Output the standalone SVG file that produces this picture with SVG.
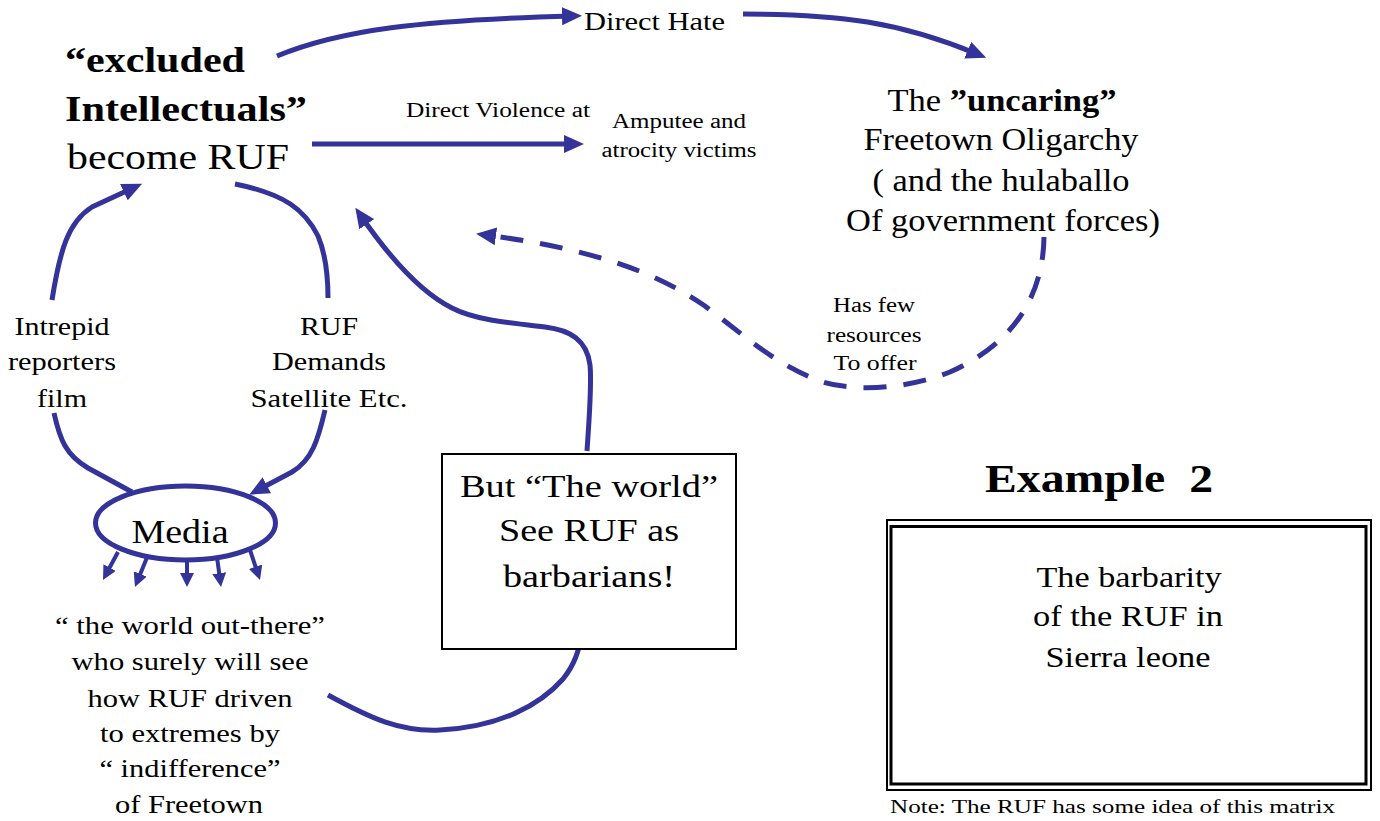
<svg xmlns="http://www.w3.org/2000/svg" width="1380" height="821" viewBox="0 0 1380 821">
<style>
text{font-family:'Liberation Serif',Tinos,'Times New Roman',Times,serif;fill:#000}
.b{font-weight:bold}
.m{text-anchor:middle}
.c{fill:none;stroke:#333399;stroke-width:5}
.a{marker-end:url(#ah)}
.s{fill:none;stroke:#333399;stroke-width:4;marker-end:url(#ahs)}
.d{stroke-dasharray:23 17}
.box{fill:#fff;stroke:#000}
</style>
<defs>
<marker id="ah" markerUnits="userSpaceOnUse" viewBox="0 0 20 18" markerWidth="20" markerHeight="18" refX="10" refY="9" orient="auto"><path d="M0,0 L20,9 L0,18 z" fill="#333399"/></marker>
<marker id="ahs" markerUnits="userSpaceOnUse" viewBox="0 0 14 14" markerWidth="14" markerHeight="14" refX="7" refY="7" orient="auto"><path d="M0,0 L14,7 L0,14 z" fill="#333399"/></marker>
</defs>
<rect width="1380" height="821" fill="#fff"/>

<g id="connectors">
<path class="c a" d="M277,56 C340,30 420,20 572,16"/>
<path class="c a" d="M743,14 C840,14 900,22 977,54"/>
<path class="c a" d="M312,144 L574,144"/>
<path class="c a" d="M52,300 C60,250 68,222 92,207 L133,188"/>
<path class="c" d="M235,184 C285,194 305,210 318,236 C326,255 328,275 328,298"/>
<path class="c" d="M54,413 C60,440 66,455 88,468 L132,492"/>
<path class="c a" d="M325,410 C318,440 312,460 292,472 L258,490"/>
<path class="c a" d="M587,451 C589,420 592,385 590,365 C587,340 570,330 545,327 C510,323 475,320 452,308 C420,292 390,258 361,216"/>
<path class="c a" d="M328,695 C370,718 400,732 440,730 C500,727 540,705 563,679 C575,664 580,650 581,633"/>
<path class="c d a" d="M1044,237 C1043,300 1010,345 950,372 C900,392 840,392 810,377 C770,360 740,332 705,306 C660,275 600,250 486,235"/>
<path class="s" d="M118,552 L106.3,573.8"/>
<path class="s" d="M148,555 L137.6,580.5"/>
<path class="s" d="M187,558 L187,580"/>
<path class="s" d="M217,557 L220.1,580.1"/>
<path class="s" d="M250,550 L257.8,573.4"/>
</g>

<g id="node-intellectuals">
<text class="b" x="65" y="72" font-size="36" textLength="180" lengthAdjust="spacingAndGlyphs">“excluded</text>
<text class="b" x="65" y="121" font-size="36" textLength="242" lengthAdjust="spacingAndGlyphs">Intellectuals”</text>
<text x="67" y="169" font-size="35" textLength="222" lengthAdjust="spacingAndGlyphs">become RUF</text>
</g>

<g id="node-direct-hate">
<text x="584" y="30" font-size="25" textLength="141" lengthAdjust="spacingAndGlyphs">Direct Hate</text>
</g>

<g id="label-direct-violence">
<text x="406" y="117" font-size="20" textLength="184" lengthAdjust="spacingAndGlyphs">Direct Violence at</text>
</g>

<g id="node-victims">
<text class="m" x="679" y="128" font-size="20" textLength="134" lengthAdjust="spacingAndGlyphs">Amputee and</text>
<text class="m" x="679" y="157" font-size="20" textLength="155" lengthAdjust="spacingAndGlyphs">atrocity victims</text>
</g>

<g id="node-oligarchy">
<text class="m" x="1002" y="111" font-size="32" textLength="229" lengthAdjust="spacingAndGlyphs">The <tspan class="b">”uncaring”</tspan></text>
<text class="m" x="1001" y="150" font-size="32" textLength="275" lengthAdjust="spacingAndGlyphs">Freetown Oligarchy</text>
<text class="m" x="1001" y="191" font-size="32" textLength="257" lengthAdjust="spacingAndGlyphs">( and the hulaballo</text>
<text class="m" x="1003" y="231" font-size="32" textLength="314" lengthAdjust="spacingAndGlyphs">Of government forces)</text>
</g>

<g id="label-few-resources">
<text class="m" x="874" y="312" font-size="20" textLength="82" lengthAdjust="spacingAndGlyphs">Has few</text>
<text class="m" x="874" y="342" font-size="20" textLength="95" lengthAdjust="spacingAndGlyphs">resources</text>
<text class="m" x="875" y="370" font-size="20" textLength="83" lengthAdjust="spacingAndGlyphs">To offer</text>
</g>

<g id="label-intrepid">
<text class="m" x="62" y="335" font-size="25" textLength="95" lengthAdjust="spacingAndGlyphs">Intrepid</text>
<text class="m" x="62" y="370" font-size="25" textLength="108" lengthAdjust="spacingAndGlyphs">reporters</text>
<text class="m" x="62" y="407" font-size="25" textLength="50" lengthAdjust="spacingAndGlyphs">film</text>
</g>

<g id="label-ruf-demands">
<text class="m" x="329" y="335" font-size="25" textLength="58" lengthAdjust="spacingAndGlyphs">RUF</text>
<text class="m" x="329" y="370" font-size="25" textLength="114" lengthAdjust="spacingAndGlyphs">Demands</text>
<text class="m" x="329" y="407" font-size="25" textLength="157" lengthAdjust="spacingAndGlyphs">Satellite Etc.</text>
</g>

<g id="node-media">
<ellipse cx="185.5" cy="523" rx="90" ry="37" fill="#fff" stroke="#333399" stroke-width="5"/>
<text class="m" x="180" y="543" font-size="33" textLength="97" lengthAdjust="spacingAndGlyphs">Media</text>
</g>

<g id="node-world-out-there">
<text class="m" x="190" y="634" font-size="26" textLength="270" lengthAdjust="spacingAndGlyphs">“ the world out-there”</text>
<text class="m" x="190" y="670" font-size="26" textLength="237" lengthAdjust="spacingAndGlyphs">who surely will see</text>
<text class="m" x="190" y="707" font-size="26" textLength="205" lengthAdjust="spacingAndGlyphs">how RUF driven</text>
<text class="m" x="190" y="742" font-size="26" textLength="180" lengthAdjust="spacingAndGlyphs">to extremes by</text>
<text class="m" x="190" y="777" font-size="26" textLength="181" lengthAdjust="spacingAndGlyphs">“ indifference”</text>
<text class="m" x="189" y="813" font-size="26" textLength="148" lengthAdjust="spacingAndGlyphs">of Freetown</text>
</g>

<g id="node-world-barbarians">
<rect class="box" x="442" y="454" width="294" height="195" stroke-width="2"/>
<text class="m" x="589" y="497" font-size="32" textLength="258" lengthAdjust="spacingAndGlyphs">But “The world”</text>
<text class="m" x="589" y="541" font-size="32" textLength="180" lengthAdjust="spacingAndGlyphs">See RUF as</text>
<text class="m" x="589" y="587" font-size="32" textLength="172" lengthAdjust="spacingAndGlyphs">barbarians!</text>
</g>

<g id="title">
<text class="b" x="985" y="492" font-size="40" textLength="228" lengthAdjust="spacingAndGlyphs" xml:space="preserve">Example  2</text>
</g>

<g id="node-barbarity">
<rect x="887" y="520" width="484" height="270" fill="#fff" stroke="#000" stroke-width="2"/>
<rect x="891" y="526.5" width="475" height="257.5" fill="none" stroke="#000" stroke-width="3"/>
<text class="m" x="1129" y="587" font-size="30" textLength="185" lengthAdjust="spacingAndGlyphs">The barbarity</text>
<text class="m" x="1128" y="626" font-size="30" textLength="190" lengthAdjust="spacingAndGlyphs">of the RUF in</text>
<text class="m" x="1128" y="667" font-size="30" textLength="165" lengthAdjust="spacingAndGlyphs">Sierra leone</text>
</g>

<g id="note">
<text x="890" y="813" font-size="19" textLength="445" lengthAdjust="spacingAndGlyphs">Note: The RUF has some idea of this matrix</text>
</g>
</svg>
